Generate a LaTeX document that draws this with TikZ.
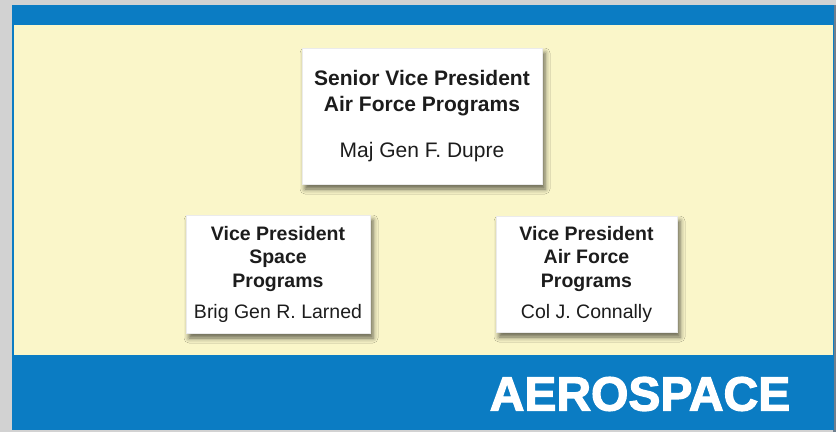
\documentclass[tikz,border=0pt]{standalone}
\usepackage{fontspec}
\setmainfont{Liberation Sans}
\newfontfamily\aerofont{Liberation Sans Bold}[RawFeature={embolden=2.5}]
\usetikzlibrary{shadows.blur}
\definecolor{aeroblue}{HTML}{0B7CC3}
\definecolor{cream}{HTML}{FAF6C9}
\definecolor{bggray}{HTML}{D2D2D2}
\definecolor{edgedark}{HTML}{6F7F8E}
\definecolor{inktext}{HTML}{1C1C1C}
\tikzset{
  orgbox/.style={fill=white, draw=black!8, line width=0.3pt, inner sep=0pt, align=center, text=inktext,
    blur shadow={shadow xshift=3pt, shadow yshift=-5pt, shadow blur radius=5pt, shadow opacity=60}},
  bigfont/.style={font=\fontsize{21}{26}\selectfont\bfseries},
  smallfont/.style={font=\fontsize{19.5}{23.5}\selectfont\bfseries}
}
\begin{document}
\begin{tikzpicture}[x=1pt,y=-1pt]
\useasboundingbox (0,0) rectangle (836,432);
\fill[bggray] (0,0) rectangle (836,432);
\fill[edgedark] (833,5) rectangle (836,432);
\fill[aeroblue] (12,5) rectangle (834,430);
\fill[cream] (13.5,25) rectangle (832.5,355);
\node[orgbox, bigfont, minimum width=240pt, minimum height=136pt] (svp) at (422,116)
  {Senior Vice President\\Air Force Programs\\[20pt]{\mdseries Maj Gen F. Dupre}};
\node[orgbox, smallfont, minimum width=184pt, minimum height=118pt] (vps) at (278,274)
  {Vice President\\Space\\Programs\\[7.5pt]{\mdseries Brig Gen R. Larned}};
\node[orgbox, smallfont, minimum width=181pt, minimum height=116pt] (vpa) at (586.5,274)
  {Vice President\\Air Force\\Programs\\[7.5pt]{\mdseries Col J. Connally}};
\node[text=white, font=\aerofont\fontsize{48}{56}\selectfont, inner sep=0pt] (logo) at (640,394) {AEROSPACE};
\end{tikzpicture}
\end{document}
